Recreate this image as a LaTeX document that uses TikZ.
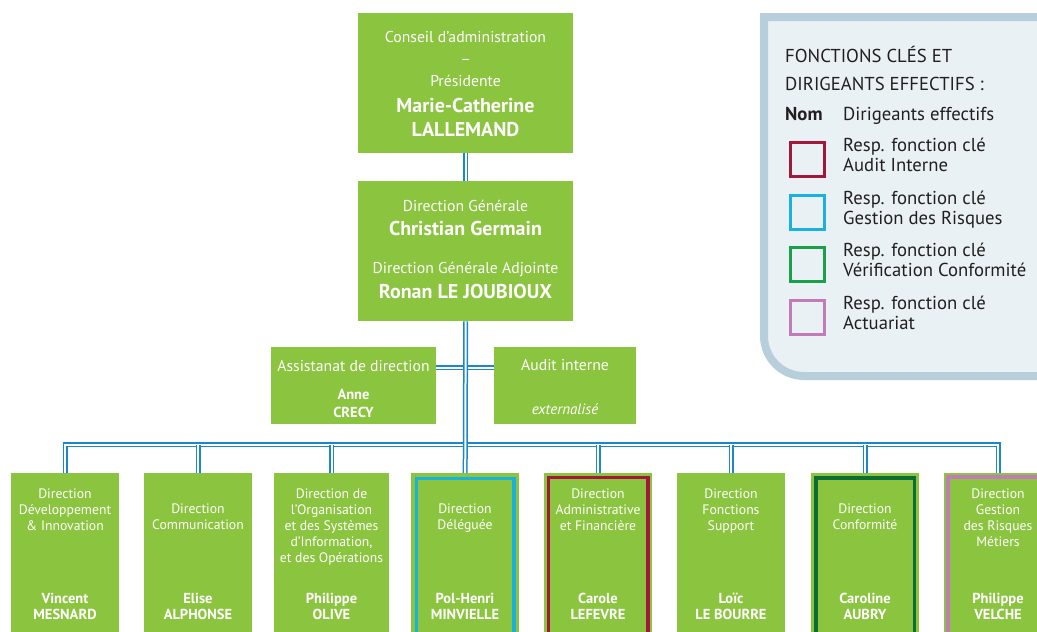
\documentclass[tikz,border=0pt]{standalone}
\usepackage{fontspec}
\setmainfont{PT Sans}
\usetikzlibrary{positioning}
\definecolor{vert}{HTML}{8BC43F}
\definecolor{bleu}{HTML}{1C86CB}
\definecolor{rougeaudit}{HTML}{A3183A}
\definecolor{cyanrisque}{HTML}{1BB1DE}
\definecolor{vertconf}{HTML}{1AA04B}
\definecolor{vertfonce}{HTML}{0D6B34}
\definecolor{roseact}{HTML}{C17BB8}
\definecolor{fondleg}{HTML}{EAF1F5}
\definecolor{bordleg}{HTML}{B7CEDB}
\definecolor{texteleg}{HTML}{231F20}
\begin{document}
\begin{tikzpicture}[x=1pt,y=-1pt]
			\useasboundingbox (0,0) rectangle (1037,632);
			\tikzset{boite/.style={fill=vert, inner sep=0, anchor=north west},
				lien/.style={draw=bleu, double=white, line width=1.5pt, double distance=2pt},
				clair/.style={text=white, inner sep=0, anchor=north, align=center, font=\fontsize{15.7}{22}\selectfont},
				gras/.style={clair, font=\bfseries\fontsize{20}{24}\selectfont},
				petit/.style={clair, font=\fontsize{13.7}{16}\selectfont},
				nom/.style={clair, font=\bfseries\fontsize{14.5}{16.7}\selectfont},
				cadre/.style={line width=3.4pt},
				leg/.style={text=texteleg, inner sep=0, anchor=north west, align=left, font=\fontsize{18.7}{20}\selectfont},
				carre/.style={line width=3pt, minimum size=34, inner sep=0, anchor=north west}}
			% cadre de la legende
			\draw[fill=fondleg, draw=bordleg, line width=8pt] (1045,17) -- (764,17) -- (764,336) arc[start angle=180, end angle=270, radius=40pt] -- (1045,376) -- cycle;
			\node[leg] (leg1) at (785,46) {FONCTIONS CLÉS ET};
			\node[leg] (leg2) at (785,77) {DIRIGEANTS EFFECTIFS :};
			\node[leg, font=\bfseries\fontsize{18.7}{20}\selectfont] (legnom) at (785,107) {Nom};
			\node[leg] (legdir) at (843,107) {Dirigeants effectifs};
			\foreach \c/\y/\t in {rougeaudit/139/{Audit Interne}, cyanrisque/192/{Gestion des Risques}, vertconf/244/{Vérification Conformité}, roseact/297/{Actuariat}}{
				\node[carre, draw=\c] (carre-\c) at (788.5,\y+1.5) {};
				\node[leg] (leg-\c) at (843,\y-1) {Resp. fonction clé\\\t};
			}
			% boites
			\node[boite, minimum width=215, minimum height=140] (ca) at (358,13) {};
			\node[boite, minimum width=215, minimum height=140] (dg) at (358,181) {};
			\node[boite, minimum width=165, minimum height=77] (assist) at (271,347) {};
			\node[boite, minimum width=142, minimum height=77] (audit) at (494,347) {};
			\foreach \n/\x/\w in {b1/11/108, b2/144/108, b3/274/115, b4/411/108, b5/544/108, b6/677/108, b7/811/108, b8/944/108}
				\node[boite, minimum width=\w, minimum height=170] (\n) at (\x,473) {};
			\draw[cadre, cyanrisque] ([xshift=5.5pt,yshift=-5.5pt]b4.north west) rectangle ([xshift=-5.5pt,yshift=-5.5pt]b4.south east);
			\draw[cadre, rougeaudit] ([xshift=4.5pt,yshift=-4.5pt]b5.north west) rectangle ([xshift=-4.5pt,yshift=-4.5pt]b5.south east);
			\draw[cadre, vertfonce] ([xshift=5pt,yshift=-5pt]b7.north west) rectangle ([xshift=-5pt,yshift=-5pt]b7.south east);
			\draw[cadre, roseact] ([xshift=3.8pt,yshift=-3.8pt]b8.north west) rectangle ([xshift=-3.8pt,yshift=-3.8pt]b8.south east);
			% textes
			\node[clair] (ca-t) at (465.5,31.5) {Conseil d’administration\\–\\Présidente};
			\node[gras] (ca-n) at (465.5,98) {Marie-Catherine\\LALLEMAND};
			\node[clair] (dg-t) at (465.5,200) {Direction Générale};
			\node[gras] (dg-n) at (465.5,221) {Christian Germain};
			\node[clair] (dga-t) at (465.5,262) {Direction Générale Adjointe};
			\node[gras] (dga-n) at (465.5,284) {Ronan LE JOUBIOUX};
			\node[clair] (assist-t) at (353.5,360) {Assistanat de direction};
			\node[nom, font=\bfseries\fontsize{14.5}{18}\selectfont] (assist-n) at (353.5,389) {Anne\\CRECY};
			\node[clair] (audit-t) at (565,359) {Audit interne};
			\node[petit, font=\itshape\fontsize{15}{16}\selectfont] (audit-n) at (565,403) {externalisé};
			\node[petit] (b1-t) at (65,488.5) {Direction\\Développement\\\& Innovation};
			\node[petit] (b2-t) at (198,503.5) {Direction\\Communication};
			\node[petit] (b3-t) at (331.5,488.5) {Direction de\\l’Organisation\\et des Systèmes\\d’Information,\\et des Opérations};
			\node[petit] (b4-t) at (465,503.5) {Direction\\Déléguée};
			\node[petit] (b5-t) at (598,488.5) {Direction\\Administrative\\et Financière};
			\node[petit] (b6-t) at (731,488.5) {Direction\\Fonctions\\Support};
			\node[petit] (b7-t) at (865,503.5) {Direction\\Conformité};
			\node[petit] (b8-t) at (998,488.5) {Direction\\Gestion\\des Risques\\Métiers};
			\node[nom] (b1-n) at (65,592.5) {Vincent\\MESNARD};
			\node[nom] (b2-n) at (198,592.5) {Elise\\ALPHONSE};
			\node[nom] (b3-n) at (331.5,592.5) {Philippe\\OLIVE};
			\node[nom] (b4-n) at (465,592.5) {Pol-Henri\\MINVIELLE};
			\node[nom] (b5-n) at (598,592.5) {Carole\\LEFEVRE};
			\node[nom] (b6-n) at (731,592.5) {Loïc\\LE BOURRE};
			\node[nom] (b7-n) at (865,592.5) {Caroline\\AUBRY};
			\node[nom] (b8-n) at (998,592.5) {Philippe\\VELCHE};
			% liaisons
			\coordinate (bus) at (465,444.5);
			\coordinate (aj) at (465,367.5);
			\draw[lien] (b1.north) -- (b1.north |- bus) -- (b8.north |- bus) -- (b8.north);
			\foreach \n in {b2,b3,b5,b6,b7} \draw[lien] (\n.north) -- (\n.north |- bus);
			\draw[lien] (assist.east |- aj) -- (audit.west |- aj);
			\draw[lien] (ca.south) -- (dg.north);
			\draw[lien] (dg.south) -- (b4.north);
	\end{tikzpicture}
\end{document}
